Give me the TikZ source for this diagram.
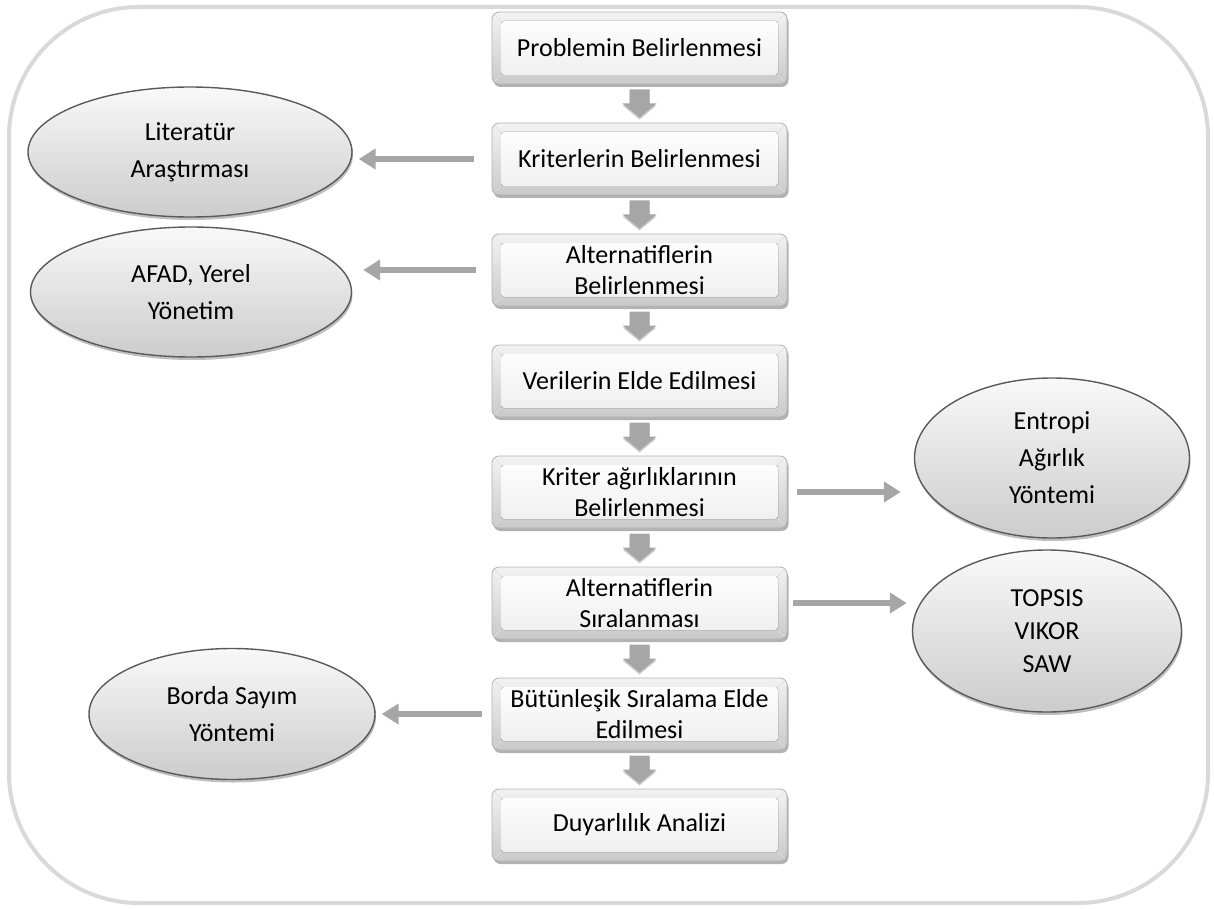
\documentclass[tikz,border=0pt]{standalone}
\usepackage{fontspec}
\setmainfont{Carlito}
\usetikzlibrary{shapes.geometric,shadows,arrows.meta,calc}
\definecolor{framegray}{HTML}{D9D9D9}
\definecolor{arrowgray}{HTML}{A6A6A6}
\definecolor{ellborder}{HTML}{5A5A5A}
\newcommand\blockdown[2]{%
  \fill[blockarrow] ($(#1.south)!0.5!(#2.north)$) ++(-10,-14) -- ++(20,0) -- ++(0,14) -- ++(7,0) -- ++(-17,14) -- ++(-17,-14) -- ++(7,0) -- cycle;}
\begin{document}
\begin{tikzpicture}[x=1pt,y=-1pt,
  stepbox/.style={draw=gray!60, line width=0.8pt, rounded corners=7pt,
    minimum width=295pt, minimum height=72pt, inner sep=0pt, align=center,
    font=\fontsize{26}{31}\selectfont,
    top color=gray!10, bottom color=gray!42,
    drop shadow={shadow xshift=1.5pt, shadow yshift=-3pt, opacity=0.3, fill=black},
    path picture={
      \fill[rounded corners=3pt, top color=white, bottom color=gray!14]
        ([shift={(9pt,-9pt)}]path picture bounding box.north west) rectangle
        ([shift={(-9pt,9pt)}]path picture bounding box.south east);
      \draw[gray!25, line width=0.6pt]
        (path picture bounding box.north west) -- ++(9pt,-9pt)
        (path picture bounding box.north east) -- ++(-9pt,-9pt)
        (path picture bounding box.south west) -- ++(9pt,9pt)
        (path picture bounding box.south east) -- ++(-9pt,9pt);
    }},
  ellbox/.style={ellipse, draw=ellborder, line width=1.4pt, inner sep=0pt,
    align=center, top color=gray!5, bottom color=gray!40,
    drop shadow={shadow xshift=1pt, shadow yshift=-3pt, opacity=0.25, fill=black},
    font=\fontsize{26}{37}\selectfont},
  harrow/.style={draw=arrowgray, line width=6pt, -{Triangle[length=17pt,width=20pt]}},
  blockarrow/.style={fill=arrowgray, drop shadow={shadow xshift=0pt, shadow yshift=-2pt, opacity=0.2, fill=black}}
]
\useasboundingbox (0,0) rectangle (1214,909);
\draw[framegray, line width=4pt, rounded corners=130pt] (9,7) rectangle (1208,903);

% process boxes
\node[stepbox] (b1) at (639.5,48) {Problemin Belirlenmesi};
\node[stepbox] (b2) at (639.5,159) {Kriterlerin Belirlenmesi};
\node[stepbox] (b3) at (639.5,270) {Alternatiflerin\\Belirlenmesi};
\node[stepbox] (b4) at (639.5,381) {Verilerin Elde Edilmesi};
\node[stepbox] (b5) at (639.5,492) {Kriter ağırlıklarının\\Belirlenmesi};
\node[stepbox] (b6) at (639.5,603) {Alternatiflerin\\Sıralanması};
\node[stepbox] (b7) at (639.5,714) {Bütünleşik Sıralama Elde\\Edilmesi};
\node[stepbox] (b8) at (639.5,825) {Duyarlılık Analizi};

% side ellipses
\node[ellbox, minimum width=324pt, minimum height=130pt] (lit) at (190,152) {Literatür\\Araştırması};
\node[ellbox, minimum width=321pt, minimum height=130pt] (afad) at (191,292) {AFAD, Yerel\\Yönetim};
\node[ellbox, minimum width=286pt, minimum height=131pt] (borda) at (232,714) {Borda Sayım\\Yöntemi};
\node[ellbox, minimum width=275pt, minimum height=160pt] (ent) at (1052,458) {Entropi\\Ağırlık\\Yöntemi};
\node[ellbox, minimum width=269pt, minimum height=162pt, font=\fontsize{26}{33}\selectfont] (tops) at (1047,631) {TOPSIS\\VIKOR\\SAW};

% down block arrows
\blockdown{b1}{b2}
\blockdown{b2}{b3}
\blockdown{b3}{b4}
\blockdown{b4}{b5}
\blockdown{b5}{b6}
\blockdown{b6}{b7}
\blockdown{b7}{b8}

% side arrows
\draw[harrow, shorten <=18pt, shorten >=6pt] (b2.west) -- (b2.west -| lit.east);
\draw[harrow, shorten <=16pt, shorten >=11pt] (b3.west) -- (b3.west -| afad.east);
\draw[harrow, shorten <=10pt, shorten >=6pt] (b7.west) -- (b7.west -| borda.east);
\draw[harrow, shorten <=10pt, shorten >=13pt] (b5.east) -- (b5.east -| ent.west);
\draw[harrow, shorten <=6pt, shorten >=5pt] (b6.east) -- (b6.east -| tops.west);
\end{tikzpicture}
\end{document}
